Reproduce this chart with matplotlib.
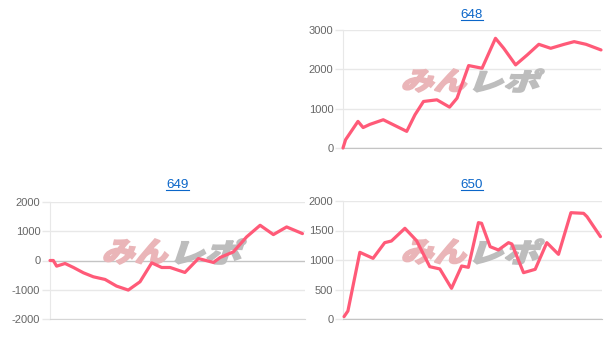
import matplotlib
matplotlib.use("Agg")
import matplotlib.pyplot as plt
from matplotlib.textpath import TextPath
from matplotlib.patches import PathPatch
from matplotlib.font_manager import FontProperties
from matplotlib.transforms import Affine2D
from matplotlib.lines import Line2D
import numpy as np

plt.rcParams["font.family"] = ["Liberation Sans", "DejaVu Sans"]

W, H = 612, 352

titles = ["648", "649", "650"]

x_648 = [0, 1.0, 5.8, 7.8, 10.4, 15.6, 24.7, 27.9, 31.2, 36.4, 41.3, 44.2, 48.7, 53.9,
         59.1, 62.3, 66.9, 71.4, 75.9, 80.5, 85.7, 89.6, 94.2, 100]
y_648 = [0, 211, 676, 520, 600, 718, 423, 845, 1183, 1225, 1039, 1267, 2096, 2028,
         2789, 2535, 2113, 2366, 2636, 2535, 2636, 2704, 2636, 2493]

x_649 = [0, 1.3, 2.6, 5.9, 9.2, 13.1, 17.0, 21.6, 26.1, 30.7, 35.3, 39.9, 43.8, 47.1,
         52.9, 58.2, 64.1, 66.7, 71.9, 77.1, 82.4, 87.6, 92.8, 99.0]
y_649 = [0, 0, -193, -102, -239, -420, -557, -648, -875, -1011, -727, -80, -239, -239,
         -409, 68, -68, 102, 295, 807, 1204, 886, 1147, 920]

x_650 = [0.4, 1.9, 6.5, 11.6, 16.1, 18.7, 23.9, 28.4, 33.5, 37.4, 41.9, 45.8, 48.4, 52.3,
         53.5, 56.8, 60.0, 63.9, 65.2, 69.7, 74.2, 78.7, 83.2, 88.0, 92.9, 94.2, 99.4]
y_650 = [40, 136, 1130, 1028, 1294, 1322, 1537, 1328, 887, 848, 520, 898, 876, 1633,
         1622, 1226, 1170, 1294, 1271, 785, 842, 1294, 1096, 1802, 1791, 1735, 1396]

yticks_648 = [0, 1000, 2000, 3000]
yticks_649 = [-2000, -1000, 0, 1000, 2000]
yticks_650 = [0, 500, 1000, 1500, 2000]

LINE = "#ff5a78"
GRID = "#e8e8e8"
ZERO = "#c4c4c4"
TXT = "#666666"
LINK = "#0b66c9"

fig = plt.figure(figsize=(W / 100, H / 100), dpi=100)

def px_axes(l, t, r, b):
    return fig.add_axes([l / W, 1 - b / H, (r - l) / W, (b - t) / H])

def logo(ax, text, box, color):
    x0, y0, x1, y1 = box
    fp = FontProperties(family="Noto Sans CJK JP", weight="black")
    tp = TextPath((0, 0), text, size=1, prop=fp)
    tp = tp.transformed(Affine2D().skew_deg(14, 0))
    ext = tp.get_extents()
    sx = (x1 - x0) / ext.width
    sy = (y1 - y0) / ext.height
    tr = (Affine2D().translate(-ext.x0, -ext.y0).scale(sx, sy)
          .translate(x0, H - y1).scale(1 / W, 1 / H))
    p = tp.transformed(tr)
    patch = PathPatch(p, facecolor=color, edgecolor=color, lw=1.2,
                      transform=fig.transFigure, zorder=1.5, clip_on=False)
    ax.add_patch(patch)

def setup(ax, data_x, data_y, ticks, logo_y, logo_x):
    ax.set_xlim(0, 100)
    ax.set_ylim(ticks[0], ticks[-1])
    ax.set_yticks(ticks)
    ax.set_yticklabels([str(t) for t in ticks])
    ax.set_xticks([])
    for t in ticks:
        ax.axhline(t, color=ZERO if t == 0 else GRID, lw=1, zorder=1)
    for s in ["top", "right"]:
        ax.spines[s].set_visible(False)
    ax.spines["left"].set_color(GRID)
    ax.spines["bottom"].set_color(ZERO if ticks[0] == 0 else "#d6d6d6")
    ax.tick_params(axis="y", length=5.5, width=1, color=GRID, labelcolor=TXT,
                   labelsize=8.0, pad=1.5)
    ax.set_facecolor("white")
    lx0, lx1 = logo_x
    ly0, ly1 = logo_y
    mid = lx0 + (lx1 - lx0) * 0.46
    logo(ax, "みん", (lx0 + 1, ly0 + 1, mid - 1, ly1 - 1), "#eab5b8")
    logo(ax, "レポ", (mid + 6, ly0 + 1, lx1 - 1, ly1 - 1), "#bdbdbd")
    ax.plot(data_x, data_y, color=LINE, lw=2.3, solid_joinstyle="round",
            solid_capstyle="round", clip_on=False, zorder=3)

ax1 = px_axes(343, 30, 601, 148)
setup(ax1, x_648, y_648, yticks_648, (68, 93), (402, 545))
ax2 = px_axes(50, 202, 305, 319)
setup(ax2, x_649, y_649, yticks_649, (238, 265), (103, 247))
ax3 = px_axes(343, 201, 602, 319)
setup(ax3, x_650, y_650, yticks_650, (238, 265), (402, 545))

title_pos = [(472, 15), (177.5, 185), (472, 185)]
texts = []
for t, (tx, ty) in zip(titles, title_pos):
    texts.append(fig.text(tx / W, 1 - ty / H, t, color=LINK, fontsize=9.6,
                          ha="center", va="center"))

fig.canvas.draw()
r = fig.canvas.get_renderer()
for tt in texts:
    bb = tt.get_window_extent(r)
    y = (bb.y0 + 1.0) / H
    fig.add_artist(Line2D([bb.x0 / W, bb.x1 / W], [y, y], color=LINK, lw=0.8,
                          transform=fig.transFigure))

fig.savefig("out.png", dpi=100)
